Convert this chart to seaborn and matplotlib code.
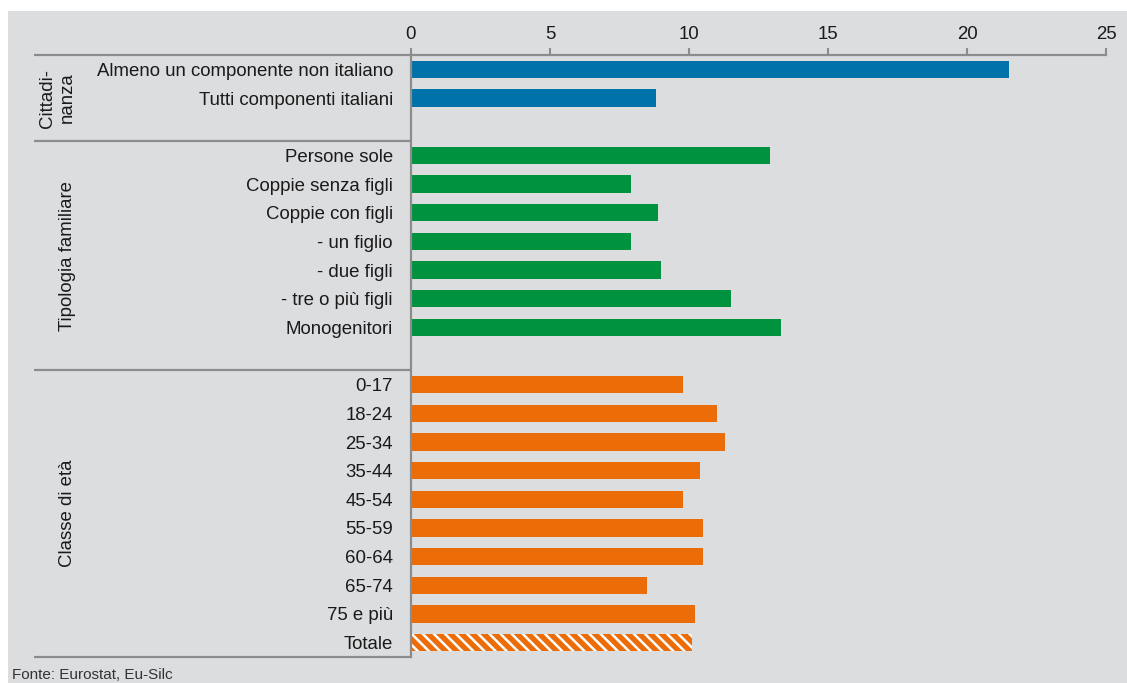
import matplotlib
matplotlib.use("Agg")
import numpy as np
import pandas as pd
import seaborn as sns
import matplotlib.pyplot as plt
from matplotlib.patches import Rectangle
from matplotlib.transforms import blended_transform_factory

# ---------------- data ----------------
cit_labels = ["Almeno un componente non italiano", "Tutti componenti italiani"]
cit_values = [21.5, 8.8]
fam_labels = ["Persone sole", "Coppie senza figli", "Coppie con figli", "- un figlio",
              "- due figli", "- tre o più figli", "Monogenitori"]
fam_values = [12.9, 7.9, 8.9, 7.9, 9.0, 11.5, 13.3]
age_labels = ["0-17", "18-24", "25-34", "35-44", "45-54", "55-59", "60-64", "65-74", "75 e più"]
age_values = [9.8, 11.0, 11.3, 10.4, 9.8, 10.5, 10.5, 8.5, 10.2]
tot_labels = ["Totale"]
tot_values = [10.1]
group_titles = ["Cittadi-\nnanza", "Tipologia familiare", "Classe di età"]
x_ticks = [0, 5, 10, 15, 20, 25]
source_text = "Fonte: Eurostat, Eu-Silc"

# ---------------- styling ----------------
BG = "#DCDDDF"
GRAY = "#8C8C8C"
TXT = "#1A1A1A"
colors = {"cit": "#0072AA", "fam": "#00923F", "age": "#EC6C08", "tot": "#EC6C08"}
FS = 13.4

sns.set_style("white")
plt.rcParams["font.family"] = ["Liberation Sans", "DejaVu Sans"]
plt.rcParams["hatch.linewidth"] = 1.8

df = pd.DataFrame({
    "label": cit_labels + fam_labels + age_labels + tot_labels,
    "value": cit_values + fam_values + age_values + tot_values,
    "group": ["cit"] * len(cit_labels) + ["fam"] * len(fam_labels)
             + ["age"] * len(age_labels) + ["tot"] * len(tot_labels),
})
order = cit_labels + [" "] + fam_labels + ["  "] + age_labels + tot_labels

W, H = 1127, 683
fig = plt.figure(figsize=(W / 100, H / 100), dpi=100, facecolor="white")
fig.patches.append(Rectangle((8 / W, 0), 1 - 8 / W, 1 - 11 / H, transform=fig.transFigure,
                             facecolor=BG, edgecolor="none", zorder=-10))

ax_l, ax_r, ax_t, ax_b = 411, 1106, 55, 657
ax = fig.add_axes([ax_l / W, 1 - ax_b / H, (ax_r - ax_l) / W, (ax_b - ax_t) / H])
ax.set_facecolor("none")

sns.barplot(data=df, y="label", x="value", hue="group", order=order,
            hue_order=["cit", "fam", "age", "tot"], palette=colors, dodge=False,
            width=0.6, saturation=1, legend=False, linewidth=0, ax=ax)

for bar in ax.containers[3]:
    bar.set_hatch("\\\\\\")
    bar.set_edgecolor("white")
    try:
        bar.set_hatchcolor("white")
    except Exception:
        pass
    bar.set_linewidth(0)

ax.set_xlim(0, 25)
ax.set_ylim(len(order) - 0.5, -0.5)
ax.set_xticks(x_ticks)
ax.set_xticklabels([str(t) for t in x_ticks])
ax.set_xlabel("")
ax.set_ylabel("")
ax.xaxis.set_ticks_position("top")
ax.tick_params(axis="x", direction="out", length=5, width=1.5, color=GRAY, pad=3.5,
               labelsize=FS, labelcolor=TXT)
ax.tick_params(axis="y", length=0, pad=13, labelsize=FS, labelcolor=TXT)

for s in ["right", "bottom"]:
    ax.spines[s].set_visible(False)
for s in ["top", "left"]:
    ax.spines[s].set_visible(True)
    ax.spines[s].set_color(GRAY)
    ax.spines[s].set_linewidth(1.6)

# group separators extending to the left
trans = blended_transform_factory(ax.transAxes, ax.transData)
x0 = (34 - ax_l) / (ax_r - ax_l)
bounds = [-0.5, len(cit_labels) + 0.5, len(cit_labels) + 1 + len(fam_labels) + 0.5, len(order) - 0.5]
for yb in bounds:
    ax.plot([x0, 0], [yb, yb], color=GRAY, lw=1.6, transform=trans, clip_on=False,
            solid_capstyle="butt")

# group titles
for i, title in enumerate(group_titles):
    yc = (bounds[i] + bounds[i + 1]) / 2
    xpx = 57 if "\n" in title else 68
    ax.text((xpx - ax_l) / (ax_r - ax_l), yc, title, transform=trans, rotation=90,
            ha="center", va="center", multialignment="center", fontsize=FS, color=TXT)

fig.text(12 / W, 1 - 668 / H, source_text, ha="left", va="top", fontsize=11, color="#333333")

fig.savefig("out.png", dpi=100, facecolor="white")
